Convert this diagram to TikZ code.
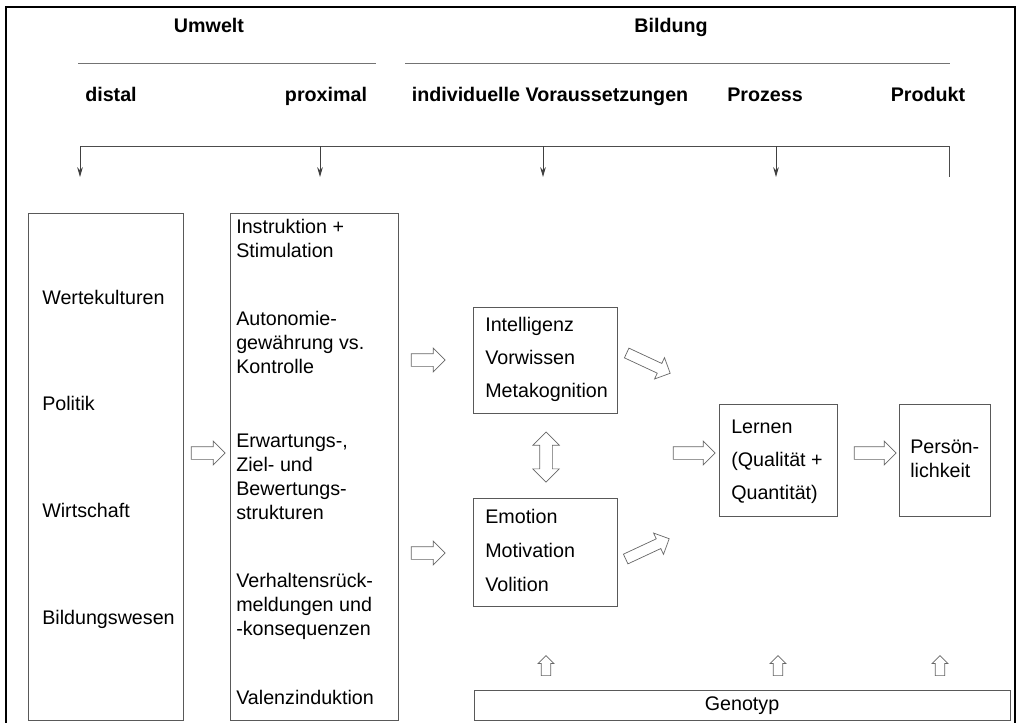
\documentclass[tikz,border=0pt]{standalone}
\usepackage{fontspec}
\setmainfont{Liberation Sans}
\usetikzlibrary{arrows.meta,shapes.arrows}

\begin{document}
\begin{tikzpicture}[
  x=0.025cm,y=-0.025cm,
  box/.style={draw=black!65,line width=0.6pt,inner sep=0pt},
  txt/.style={anchor=west,inner sep=0pt,text height=10pt,text depth=3pt,font=\fontsize{14}{17}\selectfont},
  head/.style={inner sep=0pt,text height=10pt,text depth=3pt,font=\fontsize{14}{17}\selectfont\bfseries},
  blk/.style={single arrow,draw=black!60,line width=0.5pt,inner xsep=0pt,inner ysep=0.15cm,
    minimum height=0.85cm,single arrow head extend=0.14cm},
  dblk/.style={double arrow,draw=black!60,line width=0.5pt,inner xsep=0pt,inner ysep=0.15cm,
    minimum height=1.25cm,double arrow head extend=0.17cm},
  pfeil/.style={draw=black!75,line width=0.6pt,-{Stealth[length=7pt,width=4pt]}}]
  \useasboundingbox (0,0) rectangle (1020,723);
  % frame
  \draw[line width=1.2pt] (6,723)--(6,7)--(1015,7)--(1015,723);
  % headings
  \node[head](umw) at(209,28){Umwelt};
  \node[head](bil) at(671,28){Bildung};
  \coordinate (u1) at(78,63);\coordinate (u2) at(376,63);
  \coordinate (b1) at(405,63);\coordinate (b2) at(950,63);
  \draw[black!55,line width=0.6pt] (u1)--(u2);
  \draw[black!55,line width=0.6pt] (b1)--(b2);
  \node[head](dis) at(111,97){distal};
  \node[head](pro) at(326,97){proximal};
  \node[head](ivo) at(550,97){individuelle Voraussetzungen};
  \node[head](prz) at(765,97){Prozess};
  \node[head](prd) at(928,97){Produkt};
  % bar with arrows
  \coordinate (s0) at(80,146);\coordinate (s5) at(949,146);\coordinate (e5) at(949,177);
  \draw[black!70,line width=0.6pt] (s0)--(s5)--(e5);
  \foreach \x [count=\i] in {80,320,543,776}{
    \coordinate (s\i) at(\x,146);\coordinate (e\i) at(\x,177);
    \draw[pfeil] (s\i)--(e\i);}
  % boxes
  \node[box,minimum width=3.875cm,minimum height=12.675cm](dist) at(105.5,466.5){};
  \node[box,minimum width=4.2cm,minimum height=12.675cm](prox) at(314,466.5){};
  \node[box,minimum width=3.6cm,minimum height=2.65cm](intel) at(545,360){};
  \node[box,minimum width=3.6cm,minimum height=2.7cm](emot) at(545,552){};
  \node[box,minimum width=2.95cm,minimum height=2.8cm](lern) at(778,460){};
  \node[box,minimum width=2.275cm,minimum height=2.8cm](pers) at(944.5,460){};
  \node[box,minimum width=13.4cm,minimum height=0.75cm,font=\fontsize{14}{17}\selectfont](geno) at(742,705.5){Genotyp};
  % distal
  \node[txt](wk) at(42,300){Wertekulturen};
  \node[txt](pol) at(42,406){Politik};
  \node[txt](wir) at(42,513){Wirtschaft};
  \node[txt](bw) at(42,620){Bildungswesen};
  % proximal
  \node[txt](in1) at(236,229){Instruktion +};
  \node[txt](in2) at(236,253){Stimulation};
  \node[txt](au1) at(236,321){Autonomie-};
  \node[txt](au2) at(236,345){gewährung vs.};
  \node[txt](au3) at(236,369){Kontrolle};
  \node[txt](er1) at(236,443){Erwartungs-,};
  \node[txt](er2) at(236,467){Ziel- und};
  \node[txt](er3) at(236,491){Bewertungs-};
  \node[txt](er4) at(236,515){strukturen};
  \node[txt](ve1) at(236,583){Verhaltensrück-};
  \node[txt](ve2) at(236,607){meldungen und};
  \node[txt](ve3) at(236,631){-konsequenzen};
  \node[txt](val) at(236,700){Valenzinduktion};
  % individuelle Voraussetzungen
  \node[txt](int) at(485,327){Intelligenz};
  \node[txt](vor) at(485,360){Vorwissen};
  \node[txt](met) at(485,393){Metakognition};
  \node[txt](emo) at(485,519){Emotion};
  \node[txt](mot) at(485,553){Motivation};
  \node[txt](vol) at(485,587){Volition};
  % Prozess, Produkt
  \node[txt](le1) at(731,429){Lernen};
  \node[txt](le2) at(731,462){(Qualität +};
  \node[txt](le3) at(731,495){Quantität)};
  \node[txt](pe1) at(910,449){Persön-};
  \node[txt](pe2) at(910,473){lichkeit};
  % block arrows
  \node[blk](a1) at(205,453){};
  \node[blk](a2) at(425,360){};
  \node[blk](a3) at(425,553){};
  \node[blk,minimum height=1.2cm,inner ysep=0.125cm,single arrow head extend=0.16cm,rotate=-25](a4) at(646,362){};
  \node[blk,minimum height=1.2cm,inner ysep=0.125cm,single arrow head extend=0.16cm,rotate=25](a5) at(645,550){};
  \node[blk,minimum height=1.05cm](a6) at(691,453){};
  \node[blk,minimum height=1.05cm](a7) at(872,453){};
  \node[dblk,rotate=90](a8) at(546,457){};
  \foreach \x [count=\i] in {546,778,940}{
    \node[blk,minimum height=0.5cm,inner ysep=0.11cm,single arrow head extend=0.08cm,rotate=90](g\i) at(\x,668){};}
\end{tikzpicture}
\end{document}
